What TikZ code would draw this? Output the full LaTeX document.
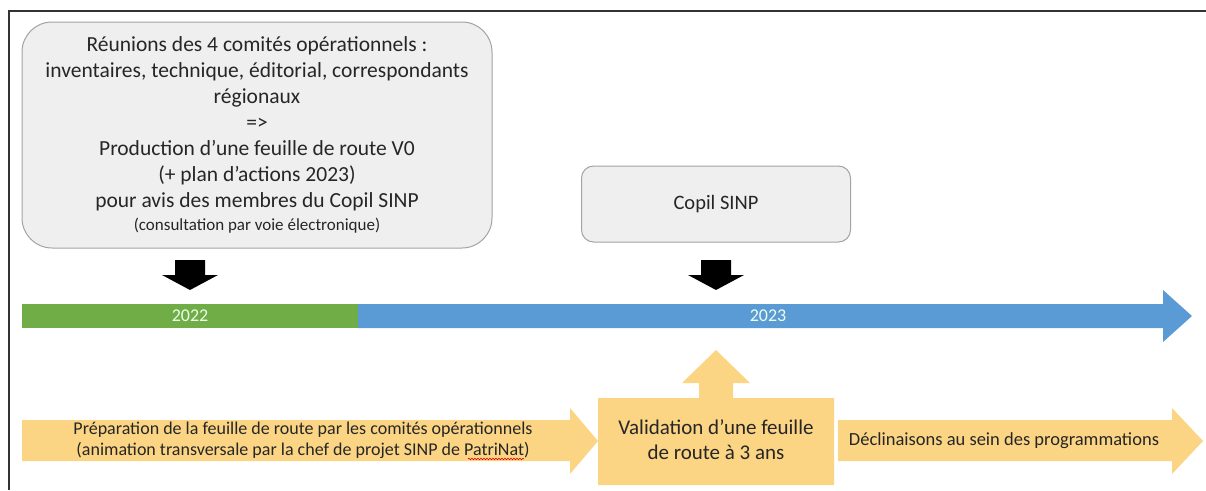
\documentclass[tikz,border=0pt]{standalone}
\usepackage{fontspec}
\setmainfont{Carlito}
\usetikzlibrary{positioning,decorations.pathmorphing}

\definecolor{boxgray}{HTML}{EFEFEF}
\definecolor{linegray}{HTML}{A3A3A3}
\definecolor{txt}{HTML}{262626}
\definecolor{y2022}{HTML}{70AD47}
\definecolor{y2023}{HTML}{5B9BD5}
\definecolor{gold}{HTML}{FCD584}

\begin{document}
\begin{tikzpicture}[x=1pt,y=-1pt]
\tikzset{every node/.style={font=\fontsize{21.5}{26}\selectfont,text=txt,align=center,inner sep=0pt}}
\tikzset{bubble/.style={draw=linegray,fill=boxgray,line width=1pt}}
\tikzset{yearlabel/.style={text=white!92!green,font=\fontsize{18}{20}\selectfont}}
\tikzset{spellmark/.style={draw=red!85!black,line width=0.6pt,
    decorate,decoration={snake,amplitude=0.8pt,segment length=3pt}}}
%\tikzset{bubble/.style={draw=linegray,fill=boxgray,
%                        rounded corners=12pt,
%                        minimum size=3cm}}
\useasboundingbox (0,0) rectangle (1206,490);

% frame
\draw[line width=1.5pt,black!80] (9,490) -- (9,11) -- (1206,11);

% top boxes
\node[bubble,rounded corners=30pt,minimum width=470pt,minimum height=226pt] (reunions) at (257,135) {};
\node (reuniontext) at (reunions.center) {R\'eunions des 4 comit\'es op\'erationnels :\\
    inventaires, technique, \'editorial, correspondants\\
    r\'egionaux\\
    =>\\
    Production d’une feuille de route V0\\
    (+ plan d’actions 2023)\\
    pour avis des membres du Copil SINP\\[-3pt]
    {\fontsize{17}{22}\selectfont (consultation par voie \'electronique)}};
\node[bubble,rounded corners=12pt,minimum width=269pt,minimum height=76pt,
    font=\fontsize{20.5}{24}\selectfont] (copil) at (716,204) {Copil SINP};

% black down arrows
\foreach \x in {190,716}
    \fill[black] ({\x-15},260) -- ({\x+15},260) -- ({\x+15},275) -- ({\x+28},275)
        -- (\x,290) -- ({\x-28},275) -- ({\x-15},275) -- cycle;

% timeline
\fill[y2022] (22,304) rectangle (358,328);
\fill[y2023] (358,304) -- (1163,304) -- (1163,290) -- (1192,316) -- (1163,342)
    -- (1163,328) -- (358,328) -- cycle;
\node[yearlabel] (year1) at (190,316) {2022};
\node[yearlabel] (year2) at (768,316) {2023};

% bottom row
\fill[gold] (22,420) -- (570,420) -- (570,408) -- (598,441) -- (570,474)
    -- (570,461) -- (22,461) -- cycle;
\node[font=\fontsize{18}{21}\selectfont] (prep) at (303,440)
    {Pr\'eparation de la feuille de route par les comit\'es op\'erationnels\\
    (animation transversale par la chef de projet SINP de PatriNat)};
\coordinate (wavestart) at (468,459);
\coordinate (waveend) at (524,459);
\draw[spellmark] (wavestart) -- (waveend);
\fill[gold] (598,485) -- (598,398) -- (699,398) -- (699,383) -- (682,383)
    -- (716,350) -- (750,383) -- (733,383) -- (733,398) -- (834,398)
    -- (834,485) -- cycle;
\node[font=\fontsize{21}{25}\selectfont] (validation) at (716,440)
    {Validation d’une feuille\\de route \`a 3 ans};
\fill[gold] (838,420) -- (1172,420) -- (1172,408) -- (1203,441) -- (1172,474)
    -- (1172,461) -- (838,461) -- cycle;
\node[font=\fontsize{18.5}{21}\selectfont] (declinaisons) at (1004,441)
    {D\'eclinaisons au sein des programmations};
\end{tikzpicture}
\end{document}
